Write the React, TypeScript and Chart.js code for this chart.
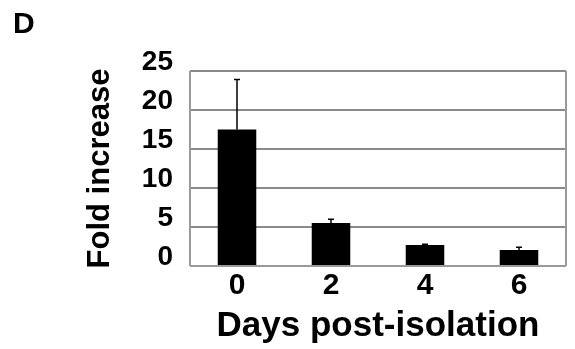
import React, { useEffect, useRef } from "react";
import { Chart, registerables } from "chart.js";

Chart.register(...registerables);

const categories = ["0", "2", "4", "6"];
const foldIncrease = [17.5, 5.5, 2.7, 2.05];
const errorUp = [6.4, 0.5, 0.1, 0.35];
const yTicks = [0, 5, 10, 15, 20, 25];
const panelLabel = "D";
const xTitle = "Days post-isolation";
const yTitle = "Fold increase";

const FONT = "'Liberation Sans', Arial, Helvetica, sans-serif";

const framePlugin = {
  id: "frame",
  beforeDatasetsDraw(chart: any) {
    const { ctx, chartArea } = chart;
    ctx.save();
    ctx.strokeStyle = "#9a9a9a";
    ctx.lineWidth = 2;
    ctx.beginPath();
    ctx.moveTo(chartArea.left, chartArea.top);
    ctx.lineTo(chartArea.left, chartArea.bottom);
    ctx.moveTo(chartArea.right, chartArea.top);
    ctx.lineTo(chartArea.right, chartArea.bottom);
    ctx.moveTo(chartArea.left, chartArea.bottom);
    ctx.lineTo(chartArea.right, chartArea.bottom);
    ctx.stroke();
    ctx.restore();
  },
};

const errorPlugin = {
  id: "errorBars",
  afterDatasetsDraw(chart: any) {
    const { ctx } = chart;
    const meta = chart.getDatasetMeta(0);
    const yScale = chart.scales.y;
    ctx.save();
    ctx.strokeStyle = "#000";
    ctx.lineWidth = 1.5;
    meta.data.forEach((bar: any, i: number) => {
      const v = foldIncrease[i];
      const top = yScale.getPixelForValue(v + errorUp[i]);
      const base = yScale.getPixelForValue(v);
      ctx.beginPath();
      ctx.moveTo(bar.x, base);
      ctx.lineTo(bar.x, top);
      ctx.moveTo(bar.x - 3, top);
      ctx.lineTo(bar.x + 3, top);
      ctx.stroke();
    });
    ctx.restore();
  },
};

const labelPlugin = {
  id: "panelLabel",
  afterDraw(chart: any) {
    const { ctx } = chart;
    ctx.save();
    ctx.fillStyle = "#000";
    ctx.font = `bold 30px ${FONT}`;
    ctx.textAlign = "left";
    ctx.textBaseline = "alphabetic";
    ctx.fillText(panelLabel, 13, 33);
    ctx.restore();
  },
};

export default function App() {
  const ref = useRef<HTMLCanvasElement | null>(null);

  useEffect(() => {
    document.body.style.margin = "0";
    document.body.style.background = "#fff";
    if (!ref.current) return;
    const chart = new Chart(ref.current, {
      type: "bar",
      data: {
        labels: categories,
        datasets: [
          {
            data: foldIncrease,
            backgroundColor: "#000",
            borderWidth: 0,
            categoryPercentage: 1,
            barPercentage: 0.41,
          },
        ],
      },
      options: {
        animation: false,
        responsive: false,
        devicePixelRatio: 1,
        layout: { padding: { top: 71, right: 9, left: 0, bottom: 0 } },
        plugins: {
          legend: { display: false },
          tooltip: { enabled: false },
          title: { display: false },
        },
        scales: {
          x: {
            grid: { display: false },
            border: { display: false },
            ticks: {
              color: "#000",
              font: { family: FONT, size: 30, weight: "bold" },
              padding: -6,
            },
            title: {
              display: true,
              text: xTitle,
              color: "#000",
              font: { family: FONT, size: 35, weight: "bold" },
              padding: { top: 0, bottom: 2 },
            },
            afterFit(scale: any) {
              scale.height = 83;
            },
          },
          y: {
            min: 0,
            max: 25,
            afterBuildTicks(scale: any) {
              scale.ticks = yTicks.map((v) => ({ value: v }));
            },
            grid: {
              color: "#8a8a8a",
              lineWidth: 2,
              tickLength: 0,
              drawTicks: false,
            },
            border: { display: false },
            ticks: {
              color: "#000",
              font: { family: FONT, size: 28, weight: "bold" },
              padding: 17,
              labelOffset: -9,
            },
            title: {
              display: true,
              text: yTitle,
              color: "#000",
              font: { family: FONT, size: 31, weight: "bold" },
              padding: { top: 82, bottom: 0 },
            },
            afterFit(scale: any) {
              scale.width = 190;
            },
          },
        },
      },
      plugins: [framePlugin, errorPlugin, labelPlugin],
    });
    return () => chart.destroy();
  }, []);

  return (
    <div style={{ width: 575, height: 349 }}>
      <canvas ref={ref} width={575} height={349} />
    </div>
  );
}
